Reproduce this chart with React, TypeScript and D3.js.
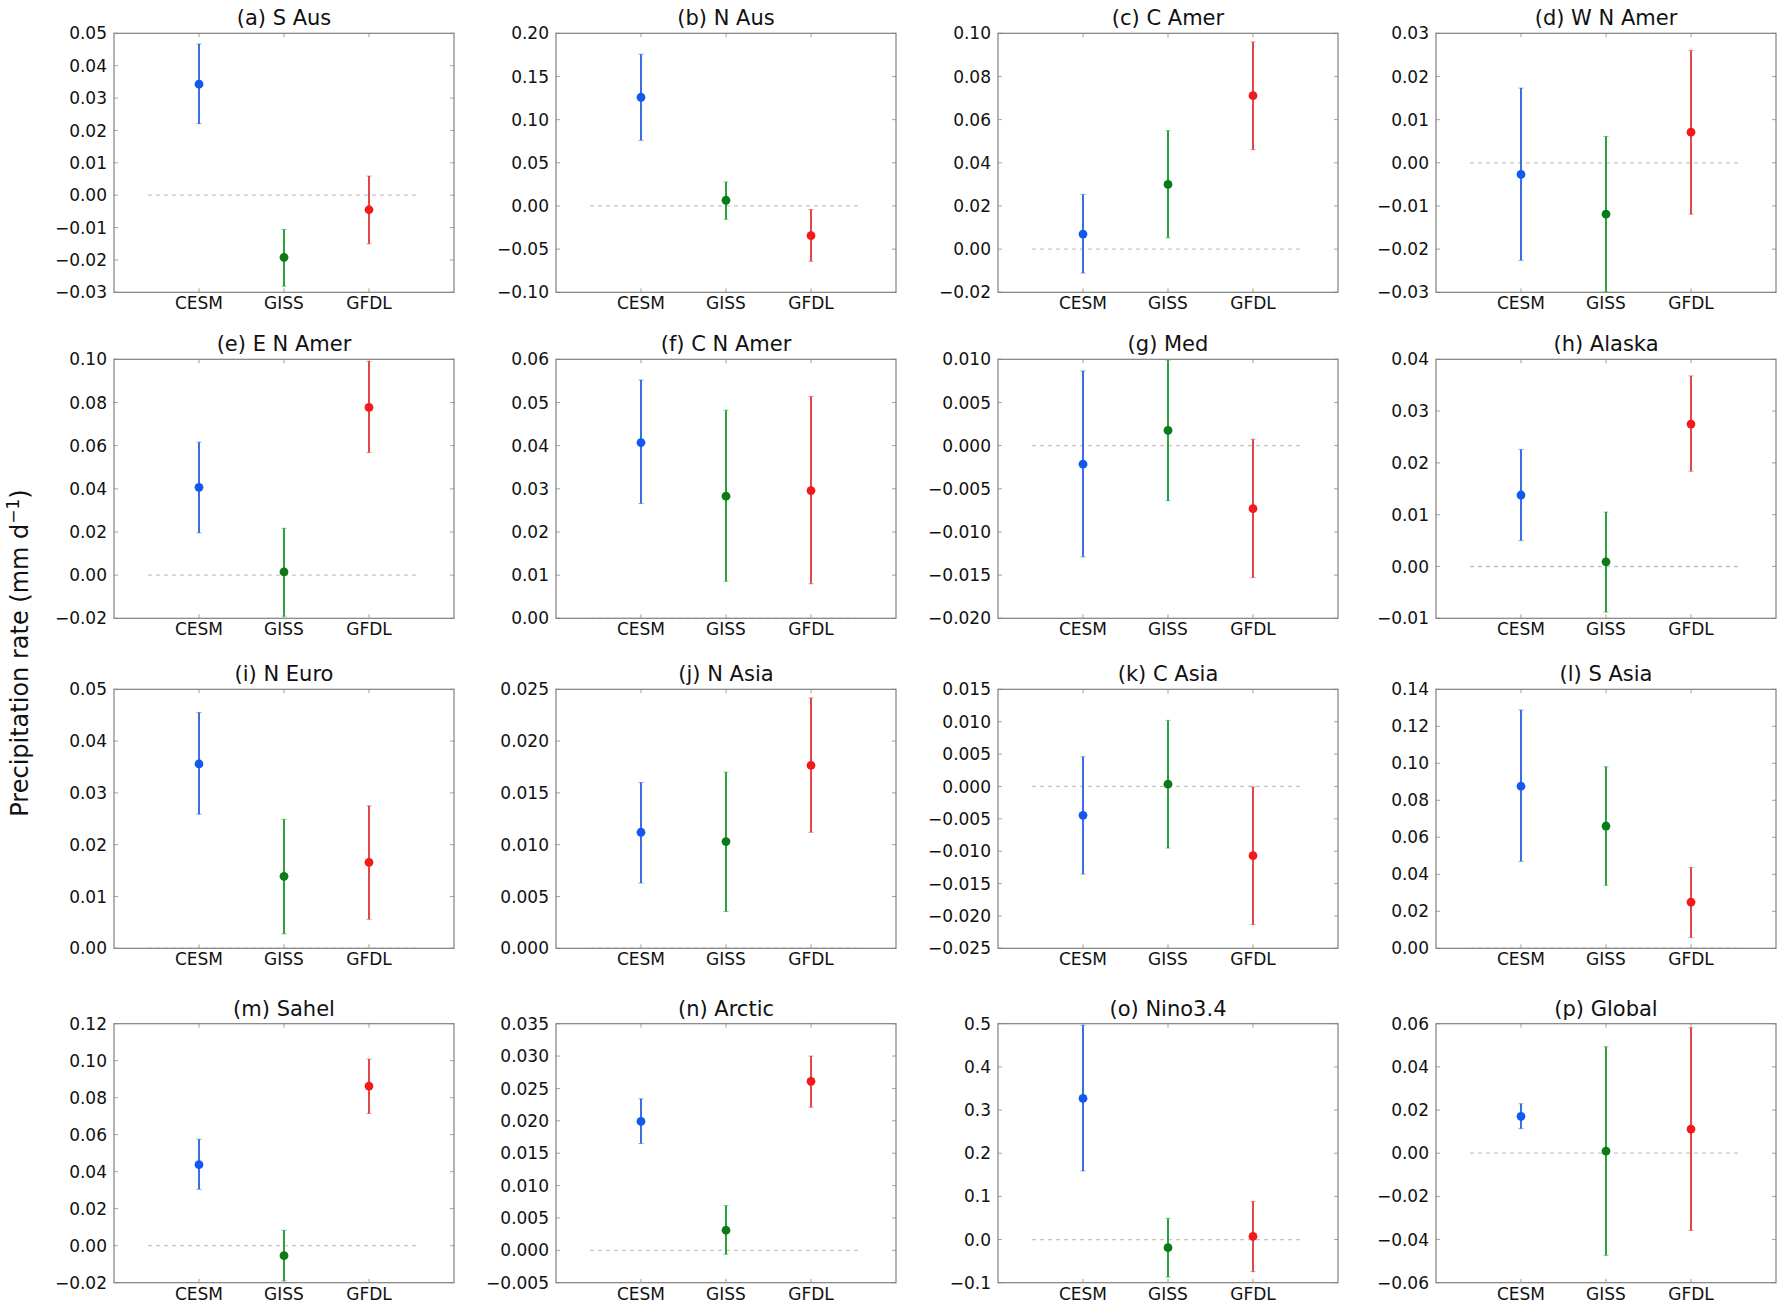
import React from "react";
import * as d3 from "d3";

const W = 1785;
const H = 1306;

const titles = [
  "(a) S Aus", "(b) N Aus", "(c) C Amer", "(d) W N Amer",
  "(e) E N Amer", "(f) C N Amer", "(g) Med", "(h) Alaska",
  "(i) N Euro", "(j) N Asia", "(k) C Asia", "(l) S Asia",
  "(m) Sahel", "(n) Arctic", "(o) Nino3.4", "(p) Global",
];

const models = ["CESM", "GISS", "GFDL"];

const yDomains: [number, number][] = [
  [-0.03, 0.05], [-0.1, 0.2], [-0.02, 0.1], [-0.03, 0.03],
  [-0.02, 0.1], [0, 0.06], [-0.02, 0.01], [-0.01, 0.04],
  [0, 0.05], [0, 0.025], [-0.025, 0.015], [0, 0.14],
  [-0.02, 0.12], [-0.005, 0.035], [-0.1, 0.5], [-0.06, 0.06],
];

const yTickSteps = [
  0.01, 0.05, 0.02, 0.01,
  0.02, 0.01, 0.005, 0.01,
  0.01, 0.005, 0.005, 0.02,
  0.02, 0.005, 0.1, 0.02,
];

const yTickDecimals = [
  2, 2, 2, 2,
  2, 2, 3, 2,
  2, 3, 3, 2,
  2, 3, 1, 2,
];

const means = [
  [0.0343, -0.0192, -0.0045],
  [0.1259, 0.0066, -0.0344],
  [0.007, 0.03, 0.0711],
  [-0.0027, -0.0119, 0.0071],
  [0.0407, 0.0015, 0.0777],
  [0.0407, 0.0283, 0.0296],
  [-0.00215, 0.00176, -0.0073],
  [0.0138, 0.0009, 0.0275],
  [0.0356, 0.0139, 0.0166],
  [0.0112, 0.0103, 0.01765],
  [-0.00446, 0.00034, -0.0107],
  [0.0876, 0.0661, 0.0249],
  [0.0438, -0.0054, 0.0863],
  [0.0199, 0.0031, 0.0261],
  [0.327, -0.0189, 0.0073],
  [0.0171, 0.001, 0.0112],
];

const uppers = [
  [0.0467, -0.0106, 0.0059],
  [0.1757, 0.0278, -0.0042],
  [0.0253, 0.0549, 0.096],
  [0.0173, 0.0061, 0.026],
  [0.0616, 0.0217, 0.099],
  [0.0552, 0.0482, 0.0514],
  [0.00865, 0.0099, 0.00075],
  [0.0226, 0.0105, 0.0368],
  [0.0455, 0.0249, 0.0275],
  [0.016, 0.017, 0.02416],
  [0.00457, 0.0102, -0.00007],
  [0.1288, 0.0981, 0.0437],
  [0.0575, 0.0083, 0.1009],
  [0.0234, 0.0069, 0.03],
  [0.496, 0.049, 0.0884],
  [0.0229, 0.0493, 0.0581],
];

const lowers = [
  [0.0221, -0.0281, -0.015],
  [0.076, -0.0154, -0.0641],
  [-0.0111, 0.0053, 0.0461],
  [-0.0226, -0.0299, -0.0119],
  [0.0196, -0.019, 0.0568],
  [0.0266, 0.0086, 0.008],
  [-0.01288, -0.00637, -0.01528],
  [0.005, -0.0088, 0.0184],
  [0.0259, 0.0028, 0.0056],
  [0.0063, 0.00355, 0.0112],
  [-0.01354, -0.00952, -0.02134],
  [0.047, 0.0341, 0.0058],
  [0.0305, -0.019, 0.0715],
  [0.0165, -0.0006, 0.0221],
  [0.1587, -0.0869, -0.0745],
  [0.0114, -0.0473, -0.0358],
];

const markerColors = ["#1558f0", "#0c7a16", "#f21a1a"];
const barColors = ["#3a6ee2", "#2aa23c", "#e0474c"];

const colLefts = [114, 556, 998, 1436];
const rowTops = [33.3, 359.3, 689.3, 1023.7];
const PW = 340;
const PH = 259;

const FONT = "DejaVu Sans, sans-serif";

function fmt(v: number, dec: number) {
  const s = Math.abs(v).toFixed(dec);
  const neg = v < -1e-12;
  return (neg ? "\u2212" : "") + s;
}

function Panel({ idx }: { idx: number }) {
  const col = idx % 4;
  const row = Math.floor(idx / 4);
  const x0 = colLefts[col];
  const y0 = rowTops[row];
  const x = d3.scaleLinear().domain([0, 4]).range([0, PW]);
  const [lo, hi] = yDomains[idx];
  const y = d3.scaleLinear().domain([lo, hi]).range([PH, 0]);
  const step = yTickSteps[idx];
  const nT = Math.round((hi - lo) / step);
  const ticks = d3.range(nT + 1).map((i) => lo + i * step);
  const dec = yTickDecimals[idx];
  const clipId = `clip-${idx}`;
  const tickColor = "#8a8a8a";
  return (
    <g transform={`translate(${x0},${y0})`}>
      <defs>
        <clipPath id={clipId}>
          <rect x={0} y={0} width={PW} height={PH} />
        </clipPath>
      </defs>
      <rect x={0} y={0} width={PW} height={PH} fill="#fff" />
      <line
        x1={x(0.4)}
        x2={x(3.6)}
        y1={y(0)}
        y2={y(0)}
        stroke="#c4c4c4"
        strokeWidth={1.3}
        strokeDasharray="4,4"
        clipPath={`url(#${clipId})`}
      />
      {ticks.map((t, i) => (
        <g key={`yt${i}`}>
          <line x1={0} x2={4} y1={y(t)} y2={y(t)} stroke={tickColor} strokeWidth={0.8} />
          <line x1={PW - 4} x2={PW} y1={y(t)} y2={y(t)} stroke={tickColor} strokeWidth={0.8} />
          <text
            x={-7}
            y={y(t)}
            dy="0.36em"
            textAnchor="end"
            fontFamily={FONT}
            fontSize={17}
            fill="#111"
          >
            {fmt(t, dec)}
          </text>
        </g>
      ))}
      {models.map((m, i) => (
        <g key={`xt${i}`}>
          <line x1={x(i + 1)} x2={x(i + 1)} y1={PH} y2={PH - 4} stroke={tickColor} strokeWidth={0.8} />
          <line x1={x(i + 1)} x2={x(i + 1)} y1={0} y2={4} stroke={tickColor} strokeWidth={0.8} />
          <text
            x={x(i + 1)}
            y={PH + 17}
            textAnchor="middle"
            fontFamily={FONT}
            fontSize={17}
            fill="#111"
          >
            {m}
          </text>
        </g>
      ))}
      <g clipPath={`url(#${clipId})`}>
        {models.map((m, i) => {
          const cx = x(i + 1);
          const yu = y(uppers[idx][i]);
          const yl = y(lowers[idx][i]);
          return (
            <g key={`eb${i}`}>
              <line x1={cx} x2={cx} y1={yu} y2={yl} stroke={barColors[i]} strokeWidth={2} />
              <line x1={cx - 2.5} x2={cx + 2.5} y1={yu} y2={yu} stroke={barColors[i]} strokeWidth={1} opacity={0.6} />
              <line x1={cx - 2.5} x2={cx + 2.5} y1={yl} y2={yl} stroke={barColors[i]} strokeWidth={1} opacity={0.6} />
              <circle cx={cx} cy={y(means[idx][i])} r={4.4} fill={markerColors[i]} />
            </g>
          );
        })}
      </g>
      <rect x={0} y={0} width={PW} height={PH} fill="none" stroke="#808080" strokeWidth={1.2} />
      <text
        x={PW / 2}
        y={-8}
        textAnchor="middle"
        fontFamily={FONT}
        fontSize={21}
        fill="#111"
      >
        {titles[idx]}
      </text>
    </g>
  );
}

export default function App() {
  return (
    <svg
      width={W}
      height={H}
      viewBox={`0 0 ${W} ${H}`}
      style={{ position: "absolute", left: 0, top: 0, background: "#fff" }}
    >
      <rect x={0} y={0} width={W} height={H} fill="#fff" />
      {titles.map((t, i) => (
        <Panel key={t} idx={i} />
      ))}
      <text
        transform={`translate(28,653) rotate(-90)`}
        textAnchor="middle"
        fontFamily={FONT}
        fontSize={24}
        fill="#111"
      >
        Precipitation rate (mm d
        <tspan dy={-9} fontSize={17}>{"\u22121"}</tspan>
        <tspan dy={9}>)</tspan>
      </text>
    </svg>
  );
}
